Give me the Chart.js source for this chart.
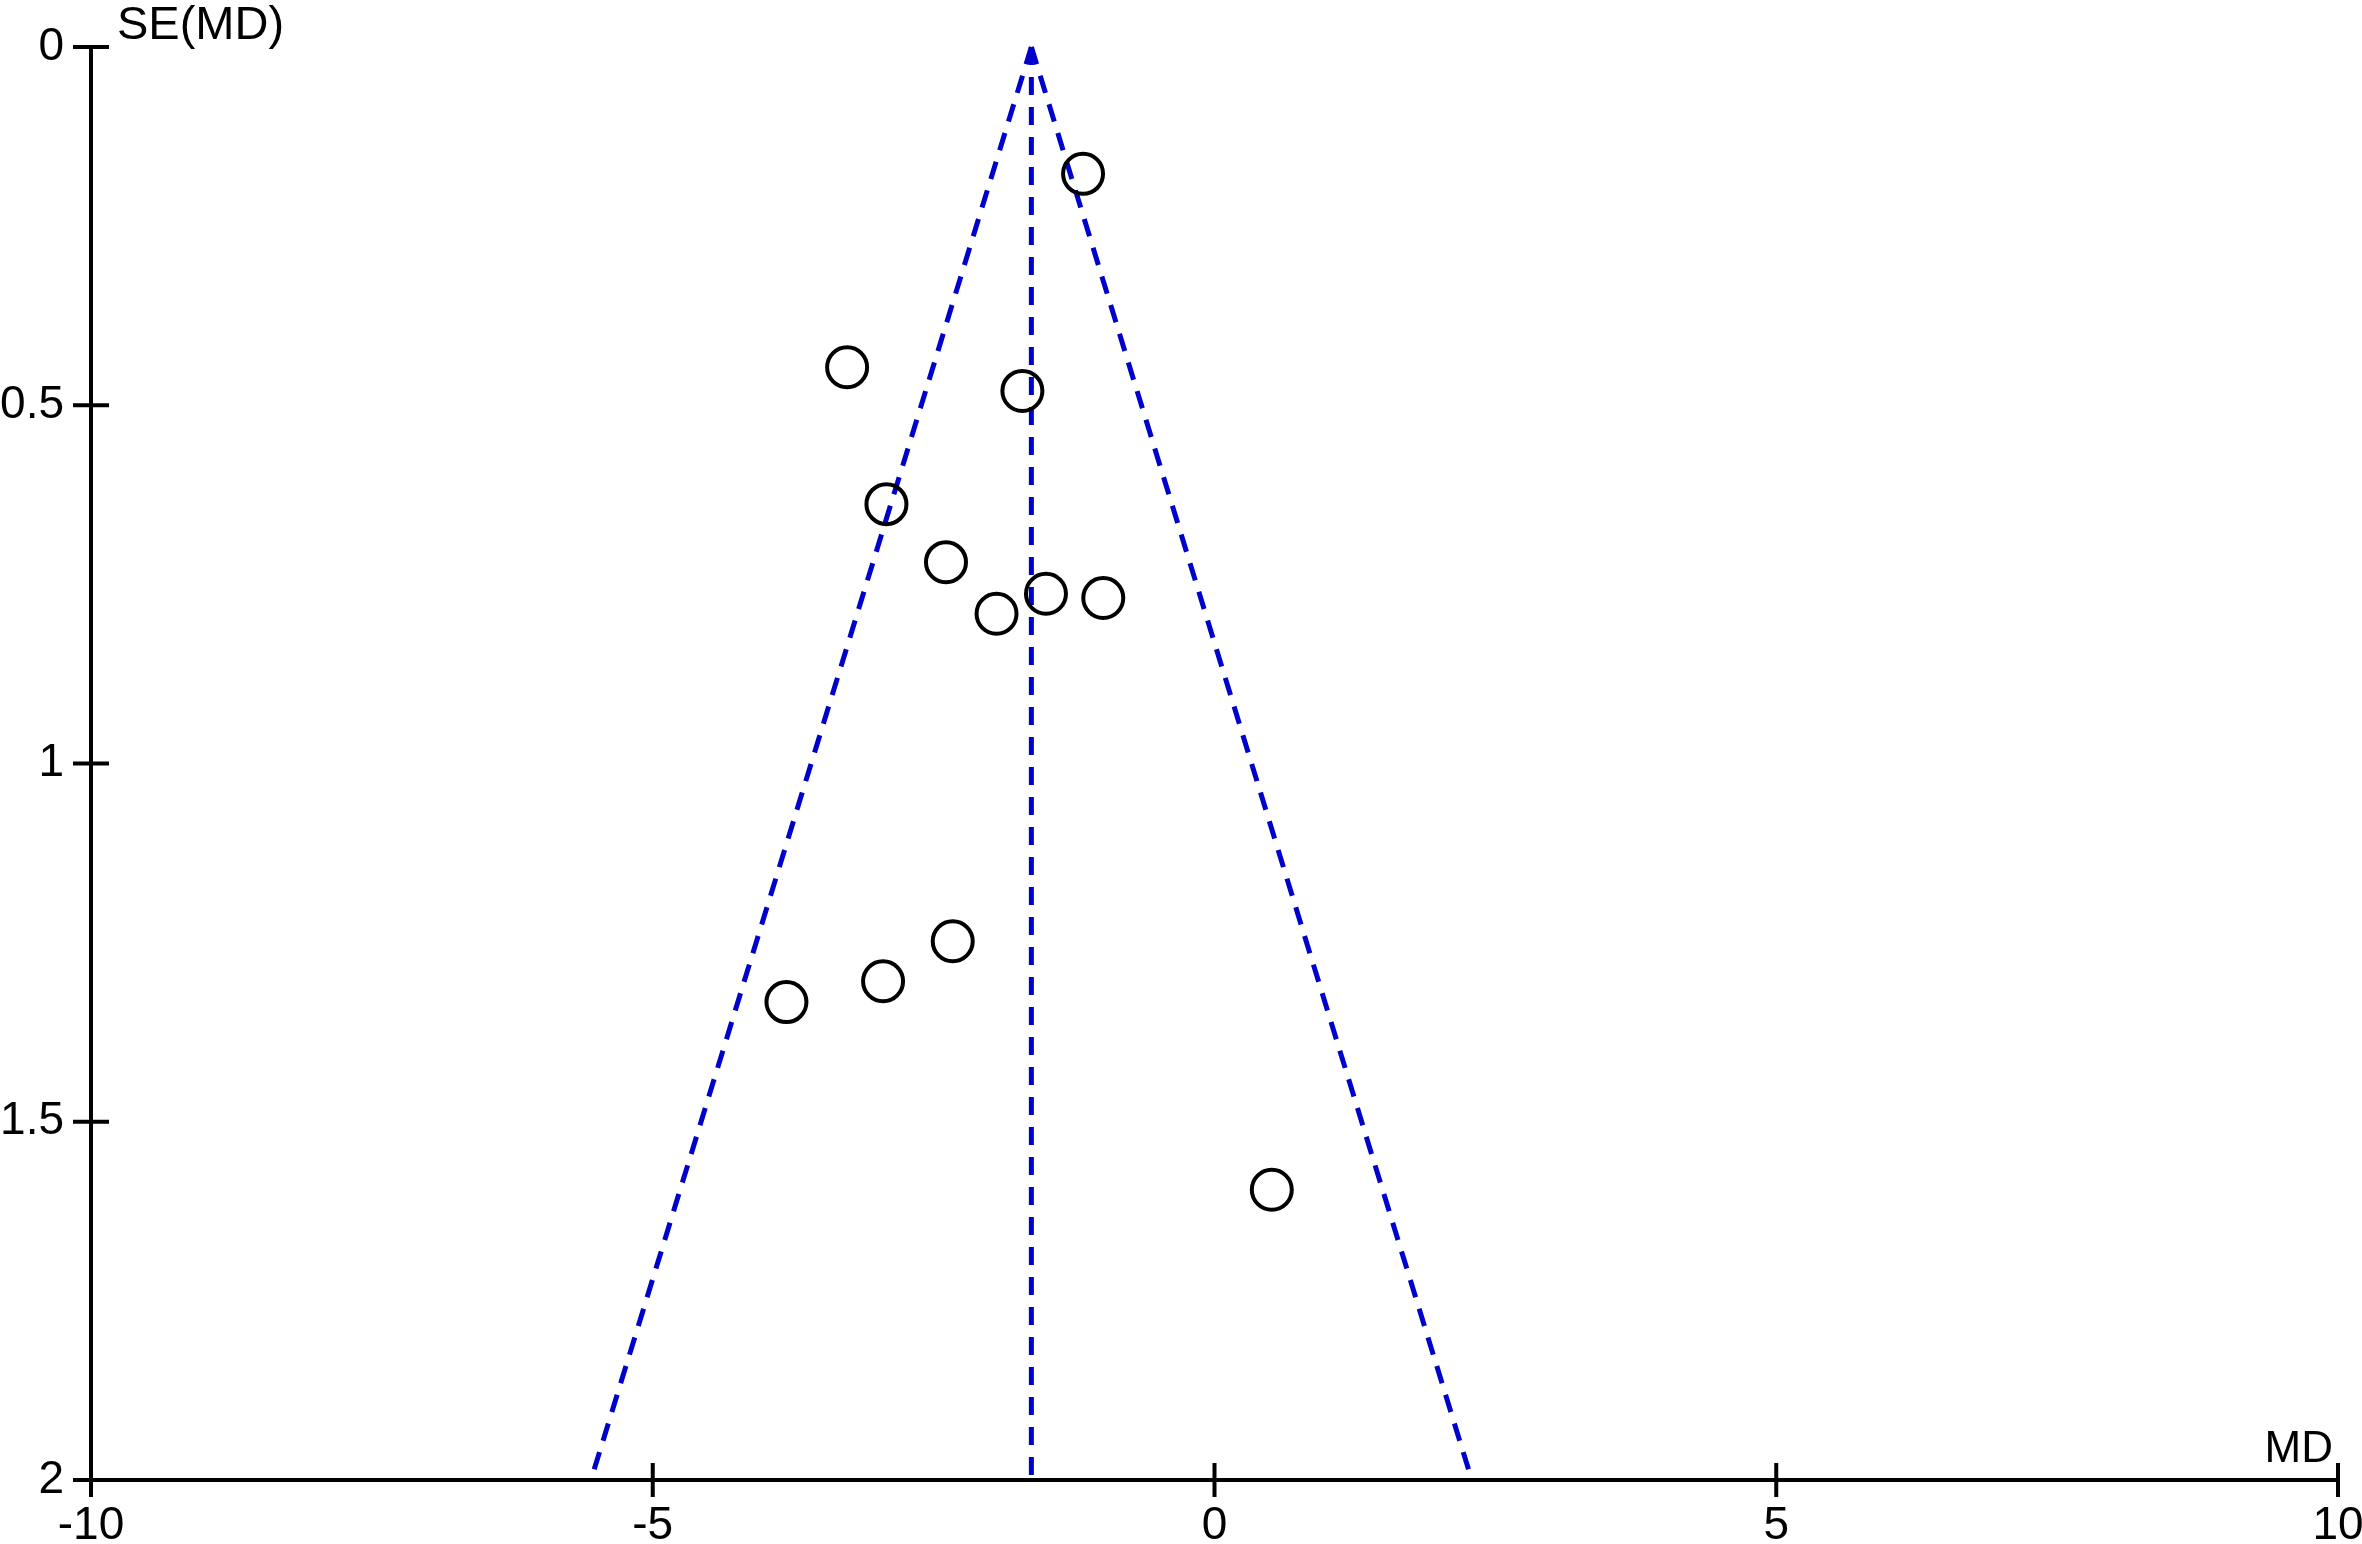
<!DOCTYPE html>
<html lang="en">
  <head>
    <meta charset="UTF-8" />
    <title>funnel plot | SE(MD) vs MD</title>
    <style>
      html, body { margin: 0; padding: 0; background: #ffffff; }
      canvas { display: block; }
    </style>
  </head>
  <body>
    <canvas id="funnelChart" width="2362" height="1544"></canvas>

    <script src="https://cdn.jsdelivr.net/npm/chart.js"></script>

    <script>
      // study points
      const studyMD = [-1.17, -3.27, -1.71, -2.92, -2.39, -1.50, -0.99, -1.94, -2.33, -2.95, -3.81, 0.51];
      const studySE = [0.177, 0.447, 0.480, 0.638, 0.719, 0.763, 0.769, 0.791, 1.248, 1.304, 1.333, 1.595];

      // funnel: pooled MD line and the two pseudo 95% limits
      const pooledX = [-1.63, -1.63];
      const pooledY = [0, 2];
      const leftLimitX = [-1.63, -5.55];
      const rightLimitX = [-1.63, 2.29];
      const limitY = [0, 2];

      const xTicks = [-10, -5, 0, 5, 10];
      const yTicks = [0, 0.5, 1, 1.5, 2];

      const toPoints = (xs, ys) => xs.map((x, i) => ({ x: x, y: ys[i] }));

      const blue = "#0000cc";
      const font = "'Liberation Sans', Arial, sans-serif";

      const dashed = (xs, ys) => ({
        type: "line",
        data: toPoints(xs, ys),
        showLine: true,
        borderColor: blue,
        borderWidth: 5,
        borderDash: [18, 12],
        pointRadius: 0,
        fill: false,
        clip: false,
      });

      // cross ticks and the two axis labels
      const axisExtras = {
        id: "axisExtras",
        afterDraw(chart) {
          const { ctx, chartArea, scales } = chart;
          ctx.save();
          ctx.strokeStyle = "#000000";
          ctx.lineWidth = 4;
          ctx.beginPath();
          yTicks.forEach((v) => {
            const py = scales.y.getPixelForValue(v);
            ctx.moveTo(chartArea.left - 18, py);
            ctx.lineTo(chartArea.left + 18, py);
          });
          xTicks.forEach((v) => {
            const px = scales.x.getPixelForValue(v);
            ctx.moveTo(px, chartArea.bottom - 17);
            ctx.lineTo(px, chartArea.bottom + 17);
          });
          ctx.stroke();

          ctx.fillStyle = "#000000";
          ctx.textBaseline = "alphabetic";
          ctx.font = "47px " + font;
          ctx.textAlign = "left";
          ctx.fillText("SE(MD)", chartArea.left + 26, 39);
          ctx.font = "44px " + font;
          ctx.textAlign = "right";
          ctx.fillText("MD", chartArea.right - 5, chartArea.bottom - 18);
          ctx.restore();
        },
      };

      const ctx = document.getElementById("funnelChart");

      new Chart(ctx, {
        type: "scatter",
        data: {
          datasets: [
            {
              data: toPoints(studyMD, studySE),
              pointStyle: "circle",
              pointRadius: 20,
              borderWidth: 4,
              borderColor: "#000000",
              backgroundColor: "rgba(0,0,0,0)",
              clip: false,
            },
            dashed(pooledX, pooledY),
            dashed(leftLimitX, limitY),
            dashed(rightLimitX, limitY),
          ],
        },
        options: {
          responsive: false,
          animation: false,
          layout: { padding: { top: 47, right: 24, left: 0, bottom: 0 } },
          plugins: {
            legend: { display: false },
            tooltip: { enabled: false },
          },
          scales: {
            x: {
              type: "linear",
              min: -10,
              max: 10,
              afterBuildTicks: (scale) => {
                scale.ticks = xTicks.map((v) => ({ value: v }));
              },
              afterFit: (scale) => {
                scale.height = 64;
                scale.paddingLeft = 0;
                scale.paddingRight = 0;
              },
              grid: { display: false, drawTicks: false },
              border: { display: true, color: "#000000", width: 4 },
              ticks: {
                color: "#000000",
                padding: 19,
                maxRotation: 0,
                callback: (v) => String(v),
                font: { size: 46, family: font },
              },
            },
            y: {
              type: "linear",
              reverse: true,
              min: 0,
              max: 2,
              afterBuildTicks: (scale) => {
                scale.ticks = yTicks.map((v) => ({ value: v }));
              },
              afterFit: (scale) => {
                scale.width = 91;
                scale.paddingTop = 0;
                scale.paddingBottom = 0;
              },
              grid: { display: false, drawTicks: false },
              border: { display: true, color: "#000000", width: 4 },
              ticks: {
                color: "#000000",
                padding: 27,
                callback: (v) => String(v),
                font: { size: 46, family: font },
              },
            },
          },
        },
        plugins: [axisExtras],
      });
    </script>
  </body>
</html>
